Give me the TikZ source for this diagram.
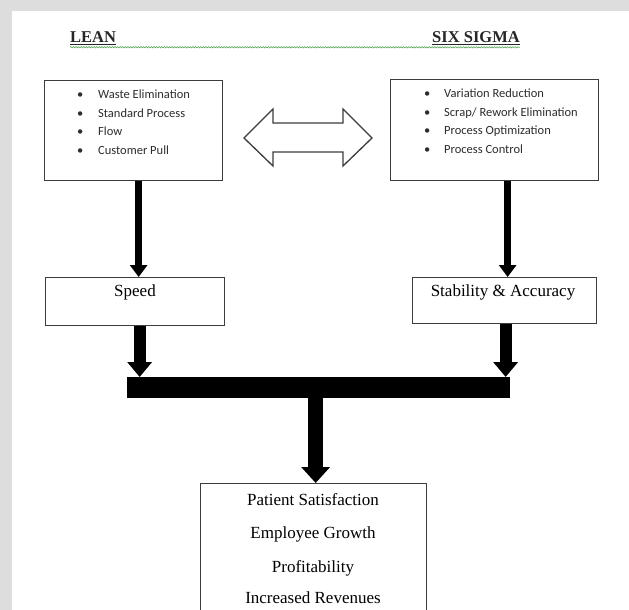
\documentclass[tikz,border=0pt]{standalone}
\usepackage{fontspec}
\setmainfont{Liberation Serif}
\newfontfamily\itemfont{Carlito}
\usetikzlibrary{arrows.meta,decorations.pathmorphing}
\definecolor{pagegrey}{RGB}{221,221,221}
\definecolor{wavygreen}{RGB}{70,160,70}
\definecolor{boxline}{RGB}{60,60,60}
\definecolor{itemtext}{RGB}{45,45,45}
\tikzset{
  box/.style={draw=boxline, line width=1.3pt, fill=white, inner sep=0pt, anchor=north west},
  serif/.style={font=\fontsize{17}{18}\selectfont, text=black, inner sep=0pt, anchor=base},
  title/.style={font=\fontsize{16.5}{18}\selectfont\bfseries, text=black!85, inner sep=0pt, anchor=base west},
  item/.style={font=\itemfont\fontsize{12.5}{14}\selectfont, text=itemtext, inner sep=0pt, anchor=base west},
  thinarrow/.style={line width=7pt, -{Triangle[width=17pt,length=12pt]}},
  thickarrow/.style={line width=12pt, -{Triangle[width=24pt,length=15pt]}},
  bigarrow/.style={line width=15pt, -{Triangle[width=28pt,length=16pt]}},
}
\newcommand{\bl}[2]{\makebox[#1][l]{\textbullet}#2}
\begin{document}
\begin{tikzpicture}[x=1pt,y=-1pt]
\useasboundingbox (0,0) rectangle (629,610);
\clip (0,0) rectangle (629,610);
\fill[pagegrey] (0,0) rectangle (629,610);
\fill[white] (12,11) rectangle (629,610);

% titles
\node[title] (leant) at (70,43) {\underline{LEAN}};
\node[title] (sigmat) at (432,43) {\underline{SIX SIGMA}};
\draw[wavygreen, line width=0.5pt, decorate, decoration={snake, amplitude=0.7pt, segment length=2.6pt}]
  ([yshift=-2pt]leant.south west) -- ([yshift=-2pt]sigmat.south east);

% top boxes
\node[box, minimum width=178pt, minimum height=100pt] (lean) at (44,80) {};
\node[box, minimum width=208pt, minimum height=101pt] (sigma) at (390,79) {};

\node[item] (l1) at (77,98) {\bl{21pt}{Waste Elimination}};
\node[item] (l2) at (77,117) {\bl{21pt}{Standard Process}};
\node[item] (l3) at (77,135.5) {\bl{21pt}{Flow}};
\node[item] (l4) at (77,154.5) {\bl{21pt}{Customer Pull}};

\node[item] (r1) at (424,97) {\bl{20pt}{Variation Reduction}};
\node[item] (r2) at (424,116) {\bl{20pt}{Scrap/ Rework Elimination}};
\node[item] (r3) at (424,134.5) {\bl{20pt}{Process Optimization}};
\node[item] (r4) at (424,153) {\bl{20pt}{Process Control}};

% double arrow
\draw[boxline, line width=1.3pt, fill=white, line join=miter]
  (244,138) -- (273,109) -- (273,123) -- (343,123) -- (343,109) -- (372,138)
  -- (343,166) -- (343,152) -- (273,152) -- (273,166) -- cycle;

% middle boxes
\node[box, minimum width=179pt, minimum height=48pt] (speed) at (45,277) {};
\node[box, minimum width=184pt, minimum height=46pt] (stab) at (412,277) {};
\node[serif] (speedt) at (135,296) {Speed};
\node[serif] (stabt) at (503,296) {Stability \& Accuracy};

% bar
\node[fill=black, inner sep=0pt, minimum width=383pt, minimum height=21pt, anchor=north west] (bar) at (127,377) {};

% bottom box
\node[box, minimum width=226pt, minimum height=150pt] (result) at (200,483) {};
\node[serif] (o1) at (313,505.5) {Patient Satisfaction};
\node[serif] (o2) at (313,538.5) {Employee Growth};
\node[serif] (o3) at (313,572) {Profitability};
\node[serif] (o4) at (313,603.5) {Increased Revenues};

% connectors
\draw[thinarrow] ([xshift=3.5pt]lean.south -| speed.north) -- ([xshift=3.5pt]speed.north);
\draw[thinarrow] ([xshift=3pt]sigma.south -| stab.north) -- ([xshift=3pt]stab.north);
\draw[thickarrow] ([xshift=4.5pt]speed.south) -- ([xshift=4.5pt]speed.south |- bar.north);
\draw[thickarrow] ([xshift=1pt]stab.south) -- ([xshift=1pt]stab.south |- bar.north);
\draw[bigarrow] ([xshift=2pt]bar.south -| result.north) -- ([xshift=2pt]result.north);
\end{tikzpicture}
\end{document}
